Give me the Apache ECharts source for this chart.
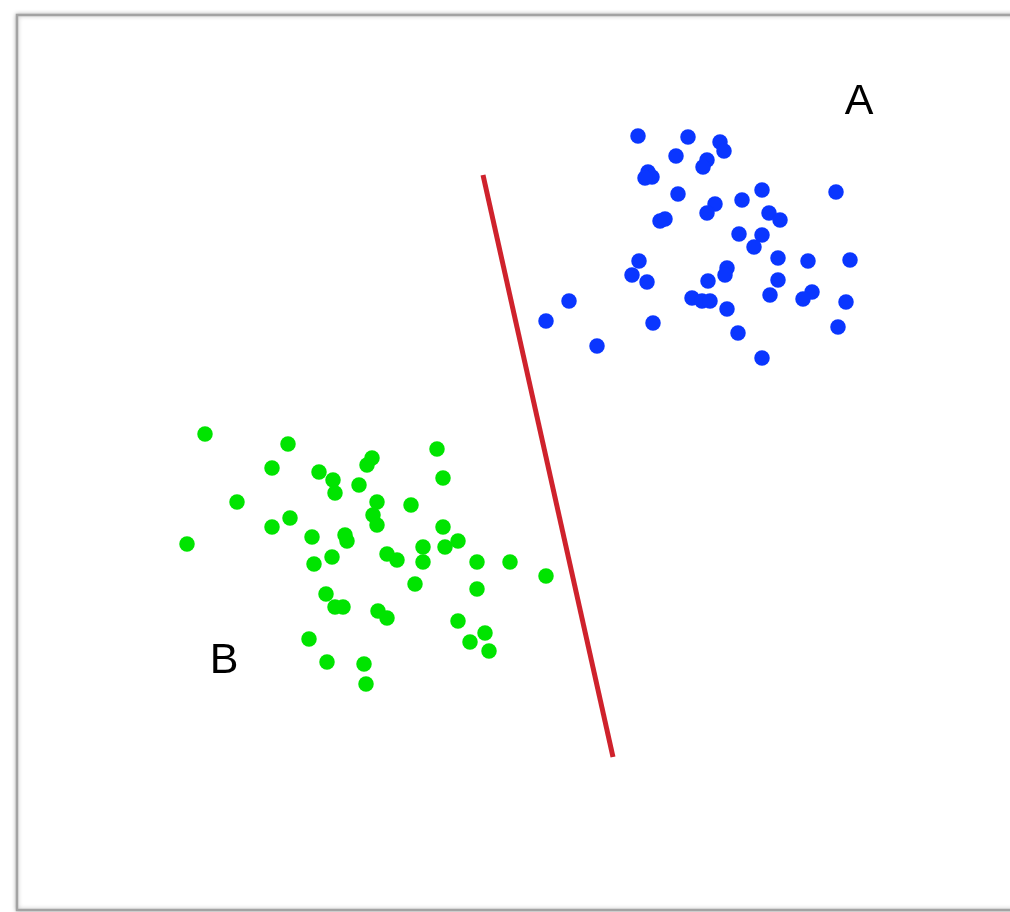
<!DOCTYPE html>
<html>
<head>
<meta charset="utf-8">
<title>Two clusters and a separating line</title>
<script src="https://cdn.jsdelivr.net/npm/echarts@6/dist/echarts.min.js"></script>
<style>
  html, body { margin: 0; padding: 0; background: #ffffff; }
  #chart { width: 1010px; height: 912px; }
</style>
</head>
<body>
<div id="chart"></div>
<script>
// Class A samples (feature 1, feature 2)
const classA = [
  [62.0, 77.4], [67.0, 77.3], [70.2, 76.8], [70.6, 75.9], [65.8, 75.4],
  [68.9, 75.0], [68.5, 74.3], [63.0, 73.8], [63.4, 73.3], [62.7, 73.2],
  [66.0, 71.6], [74.4, 72.0], [81.8, 71.8], [72.4, 71.0], [69.7, 70.6],
  [68.9, 69.7], [64.2, 68.9], [64.7, 69.1], [75.1, 69.7], [76.2, 69.0],
  [72.1, 67.6], [74.4, 67.5], [73.6, 66.3], [76.0, 65.2], [79.0, 64.9],
  [83.2, 65.0], [62.1, 64.9], [61.4, 63.5], [62.9, 62.8], [70.9, 64.2],
  [70.7, 63.5], [69.0, 62.9], [76.0, 63.0], [55.1, 60.9], [67.4, 61.2],
  [68.4, 60.9], [69.2, 60.9], [75.2, 61.5], [79.4, 61.8], [78.5, 61.1],
  [82.8, 60.8], [70.9, 60.1], [52.8, 58.9], [63.5, 58.7], [82.0, 58.3],
  [72.0, 57.7], [57.9, 56.4], [74.4, 55.2]
];

// Class B samples (feature 1, feature 2)
const classB = [
  [18.7, 47.6], [27.0, 46.6], [41.9, 46.1], [25.4, 44.2], [30.1, 43.8],
  [35.4, 45.2], [34.9, 44.5], [42.5, 43.2], [31.5, 43.0], [31.7, 41.7],
  [34.1, 42.5], [21.9, 40.8], [35.9, 40.8], [35.5, 39.5], [35.9, 38.5],
  [39.3, 40.5], [27.2, 39.2], [25.4, 38.3], [29.4, 37.3], [32.7, 37.5],
  [32.9, 36.9], [42.5, 38.3], [42.7, 36.3], [44.0, 36.9], [16.9, 36.6],
  [31.4, 35.3], [29.6, 34.6], [36.9, 35.6], [37.9, 35.0], [40.5, 36.3],
  [40.5, 34.8], [45.9, 34.8], [49.2, 34.8], [52.8, 33.4], [39.7, 32.6],
  [45.9, 32.1], [30.8, 31.6], [31.7, 30.3], [32.5, 30.3], [36.0, 29.9],
  [36.9, 29.2], [44.0, 28.9], [46.7, 27.7], [45.2, 26.8], [47.1, 25.9],
  [29.1, 27.1], [30.9, 24.8], [34.6, 24.6], [34.8, 22.6]
];

// Decision boundary endpoints
const boundary = [[46.5, 73.5], [59.5, 15.3]];

// Class name labels and where they sit
const classNames = ['A', 'B'];
const classNamePos = [[84.1, 80.8], [20.6, 24.9]];

const chart = echarts.init(document.getElementById('chart'), null, { renderer: 'canvas' });

chart.setOption({
  backgroundColor: '#ffffff',
  animation: false,
  graphic: [
    {
      type: 'rect',
      z: 0,
      shape: { x: 17, y: 15, width: 1010, height: 895 },
      style: {
        fill: '#ffffff',
        stroke: '#a3a3a3',
        lineWidth: 2.5,
        shadowBlur: 4,
        shadowColor: 'rgba(0,0,0,0.25)'
      }
    }
  ],
  grid: { left: 18, top: 16, right: 2, bottom: 2 },
  xAxis: {
    type: 'value', min: 0, max: 99,
    show: false, splitLine: { show: false }
  },
  yAxis: {
    type: 'value', min: 0, max: 89.4,
    show: false, splitLine: { show: false }
  },
  series: [
    {
      name: 'A',
      type: 'scatter',
      data: classA,
      symbol: 'circle',
      symbolSize: 15.5,
      itemStyle: { color: '#0a36ff', opacity: 1 },
      z: 3
    },
    {
      name: 'B',
      type: 'scatter',
      data: classB,
      symbol: 'circle',
      symbolSize: 15.5,
      itemStyle: { color: '#00e400', opacity: 1 },
      z: 3
    },
    {
      name: 'boundary',
      type: 'line',
      data: boundary,
      symbol: 'none',
      lineStyle: { color: '#cf222c', width: 5, cap: 'butt' },
      z: 2
    },
    {
      name: 'labels',
      type: 'scatter',
      data: classNamePos.map((p, i) => ({ value: p, name: classNames[i] })),
      symbolSize: 0,
      itemStyle: { opacity: 1 },
      label: {
        show: true,
        position: 'inside',
        formatter: (p) => p.name,
        color: '#000000',
        opacity: 1,
        textBorderWidth: 0,
        fontFamily: 'Liberation Sans, Arial, sans-serif',
        fontSize: 43
      },
      z: 4
    }
  ]
});
</script>
</body>
</html>
